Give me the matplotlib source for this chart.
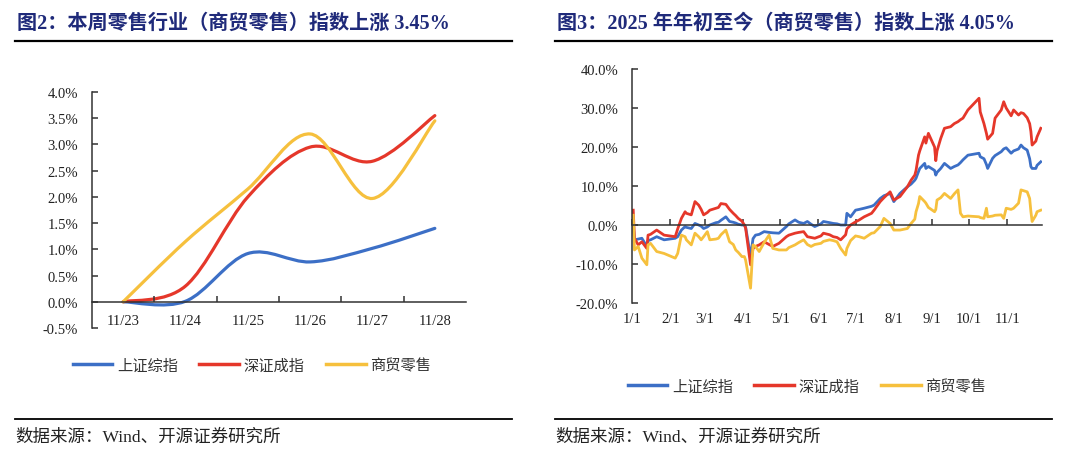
import numpy as np
import pandas as pd
import matplotlib
matplotlib.use('Agg')
import matplotlib.pyplot as plt
from matplotlib.path import Path
from matplotlib.patches import PathPatch
from matplotlib.lines import Line2D
from matplotlib.ticker import FuncFormatter

plt.rcParams['font.family'] = ['Liberation Serif', 'Noto Sans CJK SC']

#%% 数据
# 图2：本周（日度）
week_days = ['11/23', '11/24', '11/25', '11/26', '11/27', '11/28']
week_sh = [0.0, 0.01, 0.92, 0.76, 1.02, 1.40]     # 上证综指
week_sz = [0.0, 0.30, 2.00, 2.95, 2.68, 3.55]     # 深证成指
week_retail = [0.0, 1.15, 2.15, 3.20, 1.97, 3.45]  # 商贸零售

# 图3：年初至今
ytd_dates = ['01-02', '01-03', '01-06', '01-09', '01-13', '01-14', '01-16', '01-21', '01-27',
             '02-05', '02-07', '02-10', '02-13', '02-14', '02-18', '02-21', '02-24', '02-26', '02-28',
             '03-03', '03-05', '03-10', '03-12', '03-14', '03-18', '03-21', '03-24', '03-26', '03-28', '03-31',
             '04-02', '04-03', '04-07', '04-09', '04-11', '04-14', '04-18', '04-22', '04-25', '04-30',
             '05-06', '05-08', '05-13', '05-16', '05-20', '05-23', '05-26', '05-29',
             '06-03', '06-05', '06-10', '06-13', '06-16', '06-19', '06-23', '06-24', '06-27',
             '07-01', '07-04', '07-08', '07-14', '07-16', '07-21', '07-24', '07-29',
             '08-01', '08-06', '08-12', '08-15', '08-18', '08-19', '08-21', '08-22', '08-26', '08-27', '08-29',
             '09-03', '09-04', '09-05', '09-08', '09-11', '09-16', '09-19', '09-22', '09-24', '09-26', '09-30',
             '10-09', '10-10', '10-13', '10-15', '10-16', '10-20', '10-22', '10-27', '10-29', '10-31',
             '11-04', '11-06', '11-10', '11-12', '11-14', '11-17', '11-19', '11-20', '11-21', '11-24', '11-25', '11-28']
ytd_sh = [0.0, -3.8, -3.6, -3.4, -5.5, -4.0, -3.8, -3.0, -3.8,
          -3.4, -3.0, -1.3, -0.4, -0.6, -0.9, 0.4, 0.0, -0.3, -0.9,
          -0.5, 0.0, 0.6, 0.7, 1.2, 2.1, 0.9, 0.7, 0.5, 0.2, 0.0,
          0.0, -0.5, -8.1, -3.5, -2.6, -2.4, -1.7, -1.9, -2.0, -2.1,
          -0.4, 0.3, 1.3, 0.7, 0.4, 0.9, 0.2, -0.4,
          0.3, 0.9, 0.6, 0.4, 0.3, 0.0, 0.0, 3.0, 2.1,
          3.8, 4.0, 4.3, 4.8, 5.1, 6.8, 7.5, 8.1,
          6.0, 8.1, 9.8, 10.5, 11.5, 12.0, 13.7, 14.5, 15.8, 14.5, 15.0,
          14.0, 12.8, 13.5, 14.5, 15.8, 14.5, 15.0, 15.4, 16.0, 16.7, 17.9,
          18.4, 17.5, 17.0, 15.5, 14.5, 17.1, 17.8, 18.8, 19.5, 19.8,
          18.4, 19.0, 19.5, 20.5, 19.8, 19.2, 17.0, 15.0, 14.5, 14.5, 15.3, 16.2]
ytd_sz = [3.8, -3.4, -5.1, -4.3, -6.0, -2.6, -2.4, -1.3, -2.6,
          -3.0, -1.0, 1.7, 3.4, 3.0, 2.6, 6.0, 5.1, 4.0, 2.6,
          3.2, 3.8, 4.3, 4.5, 5.5, 5.3, 4.0, 3.0, 2.4, 1.7, 1.0,
          0.0, -0.8, -10.2, -6.0, -5.5, -5.1, -4.3, -5.0, -5.5, -4.7,
          -3.0, -2.6, -2.1, -1.9, -1.7, -3.0, -3.2, -3.4,
          -2.8, -2.1, -2.5, -3.0, -3.2, -3.8, -2.5, -1.0, 0.0,
          0.8, 1.3, 2.1, 3.0, 3.8, 6.0, 7.0, 8.5,
          6.4, 7.3, 9.8, 11.5, 12.8, 14.0, 17.9, 19.0, 22.6, 21.0, 23.5,
          20.0, 16.5, 19.0, 22.2, 24.8, 25.2, 26.0, 26.5, 27.0, 27.4, 29.5,
          32.5, 29.0, 26.0, 23.5, 22.0, 23.5, 27.4, 29.5, 31.6, 30.0,
          28.0, 29.5, 28.2, 28.8, 28.6, 27.5, 26.0, 24.0, 20.5, 21.5, 22.6, 24.8]
ytd_retail = [2.5, -6.4, -5.5, -8.5, -10.2, -5.1, -4.7, -6.8, -7.3,
              -8.5, -7.3, -2.6, -3.0, -3.8, -5.1, -2.1, -3.0, -3.8, -3.0,
              -1.7, -3.8, -3.6, -3.4, -2.5, -1.3, -4.3, -5.0, -6.4, -7.0, -8.1,
              -8.1, -9.0, -16.2, -5.1, -5.5, -6.8, -4.5, -2.6, -6.0, -6.4,
              -6.4, -5.8, -5.1, -4.5, -3.8, -5.0, -5.5, -5.0,
              -4.7, -4.2, -3.8, -4.0, -4.3, -6.0, -7.7, -6.0, -4.0,
              -2.8, -3.0, -3.4, -2.1, -2.0, -0.4, 1.7, 0.4,
              -1.3, -1.3, -0.9, 0.4, 1.5, 3.4, 5.5, 7.3, 6.0, 5.6, 4.5,
              3.4, 4.0, 6.4, 7.0, 8.1, 6.8, 8.0, 9.0, 3.0, 2.1, 2.3,
              2.1, 1.9, 1.7, 4.3, 2.1, 2.3, 2.5, 2.6, 1.7, 4.3,
              4.0, 4.3, 5.6, 9.0, 8.8, 8.5, 6.8, 3.5, 0.9, 2.5, 3.4, 3.8]

names = ['上证综指', '深证成指', '商贸零售']
colors = ['#3C6FC6', '#E5372A', '#F6C03D']
title_color = '#1F2A7A'
axis_color = '#333333'


def smooth_path(xs, ys):
    # 类似Excel平滑线：Catmull-Rom 转三次贝塞尔
    pts = np.column_stack([xs, ys]).astype(float)
    p = np.vstack([pts[0], pts, pts[-1]])
    verts = [pts[0]]
    codes = [Path.MOVETO]
    for i in range(1, len(p) - 2):
        c1 = p[i] + (p[i + 1] - p[i - 1]) / 6
        c2 = p[i + 1] - (p[i + 2] - p[i]) / 6
        verts += [c1, c2, p[i + 1]]
        codes += [Path.CURVE4] * 3
    return Path(verts, codes)


fig = plt.figure(figsize=(10.8, 4.56), dpi=100)

#%% 图2
ax1 = fig.add_axes([92 / 1080, 1 - 329 / 456, 374 / 1080, 236 / 456])
xs = np.arange(len(week_days))
for vals, col in zip([week_sh, week_sz, week_retail], colors):
    ax1.add_patch(PathPatch(smooth_path(xs, vals), facecolor='none',
                            edgecolor=col, lw=2.3, capstyle='round'))
ax1.set_xlim(-0.5, len(week_days) - 0.5)
ax1.set_ylim(-0.5, 4.0)
ax1.set_yticks(np.arange(-0.5, 4.01, 0.5))
ax1.yaxis.set_major_formatter(FuncFormatter(lambda v, p: '%.1f%%' % v))
ax1.set_xticks(xs)
ax1.set_xticklabels(week_days)
ax1.set_xticks(xs[:-1] + 0.5, minor=True)
ax1.spines['bottom'].set_position(('data', 0))
for s in ['top', 'right']:
    ax1.spines[s].set_visible(False)
for s in ['left', 'bottom']:
    ax1.spines[s].set_color(axis_color)
    ax1.spines[s].set_linewidth(1.1)
ax1.tick_params(axis='x', which='major', length=0, pad=8.5, labelsize=10.5, colors='#222222')
ax1.tick_params(axis='x', which='minor', direction='in', length=4, width=1.1, color=axis_color)
ax1.tick_params(axis='y', direction='in', length=4, width=1.1, color=axis_color,
                pad=10, labelsize=10.5, labelcolor='#222222')

#%% 图3
ax2 = fig.add_axes([632 / 1080, 1 - 304 / 456, 410 / 1080, 234 / 456])
dates = pd.to_datetime(['2025-' + d for d in ytd_dates])
for vals, col in zip([ytd_sh, ytd_sz, ytd_retail], colors):
    ax2.plot(dates, vals, color=col, lw=2.0, solid_joinstyle='round')
ax2.set_xlim(pd.Timestamp('2025-01-01'), pd.Timestamp('2025-11-29'))
ax2.set_ylim(-20, 40)
ax2.set_yticks(np.arange(-20, 41, 10))
ax2.yaxis.set_major_formatter(FuncFormatter(lambda v, p: '%.1f%%' % v))
months = pd.date_range('2025-01-01', '2025-11-01', freq='MS')
ax2.set_xticks(months)
ax2.set_xticklabels(['%d/1' % m.month for m in months])
ax2.spines['bottom'].set_position(('data', 0))
for s in ['top', 'right']:
    ax2.spines[s].set_visible(False)
for s in ['left', 'bottom']:
    ax2.spines[s].set_color(axis_color)
    ax2.spines[s].set_linewidth(1.1)
ax2.tick_params(axis='x', direction='in', length=4, width=1.1, color=axis_color,
                pad=63, labelsize=10.5, labelcolor='#222222')
ax2.tick_params(axis='y', direction='in', length=4, width=1.1, color=axis_color,
                pad=10, labelsize=10.5, labelcolor='#222222')

#%% 图例
handles = [Line2D([], [], color=c, lw=2.5) for c in colors]
for cx, cy in [(252, 366), (807, 387)]:
    fig.legend(handles, names, loc='center', bbox_to_anchor=(cx / 1080, 1 - cy / 456),
               ncol=3, frameon=False, handlelength=2.6, handletextpad=0.3,
               columnspacing=1.4, prop={'family': 'Noto Sans CJK SC', 'size': 11},
               labelcolor='#333333')

#%% 标题、分隔线、来源
fig.text(17 / 1080, 1 - 24 / 456, '图2：本周零售行业（商贸零售）指数上涨 3.45%',
         fontsize=14.5, fontweight='bold', color=title_color, va='center')
fig.text(557 / 1080, 1 - 24 / 456, '图3：2025 年年初至今（商贸零售）指数上涨 4.05%',
         fontsize=14.5, fontweight='bold', color=title_color, va='center')
for x0, x1 in [(15, 512), (555, 1052)]:
    fig.add_artist(Line2D([x0 / 1080, x1 / 1080], [1 - 42 / 456] * 2, color='black', lw=1.6))
    fig.add_artist(Line2D([x0 / 1080, x1 / 1080], [1 - 420 / 456] * 2, color='black', lw=1.3))
    fig.text(x0 / 1080, 1 - 438 / 456, '数据来源：Wind、开源证券研究所',
             fontsize=12.6, color='#222222', va='center')

fig.savefig('out.png', dpi=100)
